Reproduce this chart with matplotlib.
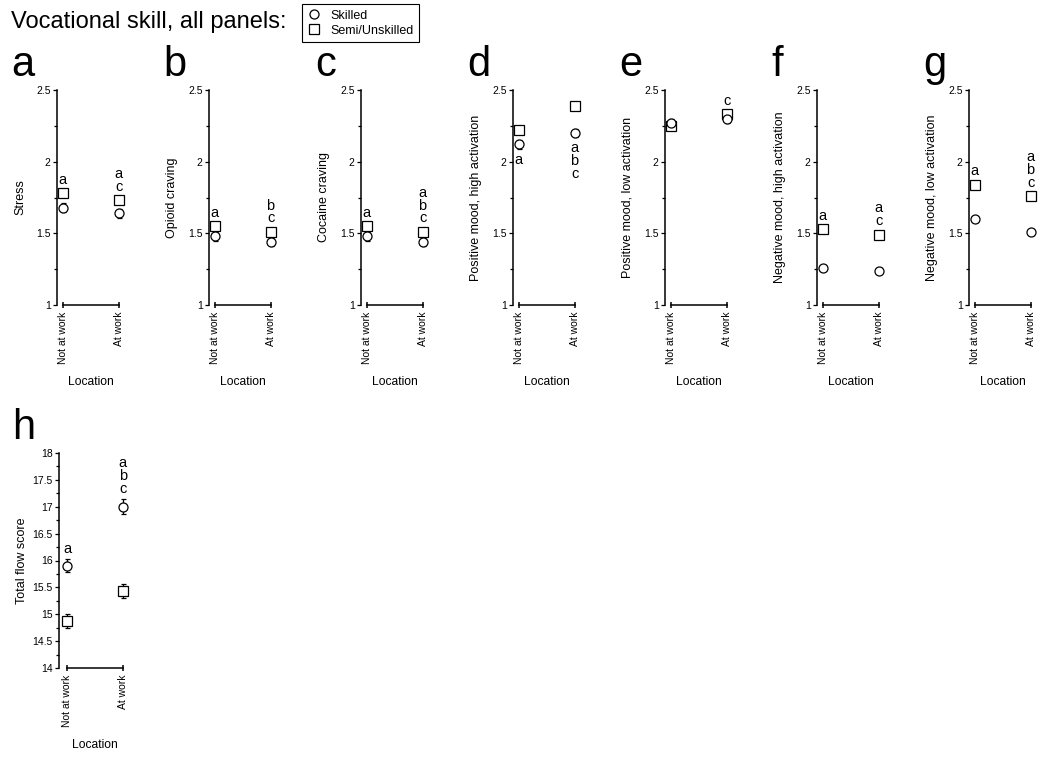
import numpy as np
import matplotlib
matplotlib.use("Agg")
import matplotlib.pyplot as plt
from matplotlib.lines import Line2D

plt.rcParams['font.family'] = ['Liberation Sans', 'DejaVu Sans']

W, H = 1050, 758

# panels a-g share the 1-2.5 scale
letters = ["a", "b", "c", "d", "e", "f", "g"]
ylabels = ["Stress", "Opioid craving", "Cocaine craving",
           "Positive mood, high activation", "Positive mood, low activation",
           "Negative mood, high activation", "Negative mood, low activation"]
locations = ["Not at work", "At work"]

skilled_not = [1.68, 1.48, 1.48, 2.12, 2.27, 1.26, 1.60]
skilled_work = [1.64, 1.44, 1.44, 2.20, 2.30, 1.24, 1.51]
semi_not = [1.78, 1.55, 1.55, 2.22, 2.25, 1.53, 1.84]
semi_work = [1.73, 1.51, 1.51, 2.39, 2.33, 1.49, 1.76]
skilled_err = [0.03, 0.03, 0.03, 0.03, 0.03, 0.02, 0.02]
semi_err = [0.02, 0.02, 0.02, 0.02, 0.02, 0.02, 0.02]

# significance letters (top to bottom), and whether they sit above or below the points
sig_not = ["a", "a", "a", "a", "", "a", "a"]
sig_work = ["ac", "bc", "abc", "abc", "c", "ac", "abc"]
sig_side = ["above", "above", "above", "below", "above", "above", "above"]

# panel h: total flow score
h_skilled = [15.90, 17.00]
h_semi = [14.88, 15.44]
h_skilled_err = [0.12, 0.14]
h_semi_err = [0.13, 0.13]
h_sig = ["a", "abc"]


def px_rect(left, top, width, height):
    return [left / W, 1 - (top + height) / H, width / W, height / H]


def style_panel(ax, ymin, ymax, ylabel, xlim):
    ax.set_xlim(*xlim)
    ax.set_ylim(ymin, ymax)
    for s in ["top", "right", "bottom"]:
        ax.spines[s].set_visible(False)
    ax.spines["left"].set_linewidth(1.1)
    ax.set_yticks(np.arange(ymin, ymax + 0.01, 0.5))
    ax.set_yticks(np.arange(ymin, ymax + 0.01, 0.25), minor=True)
    ax.yaxis.set_major_formatter(plt.FuncFormatter(lambda v, p: f"{v:g}"))
    ax.tick_params(axis="y", which="major", length=3, width=0.9, labelsize=7.5, pad=1.5)
    ax.tick_params(axis="y", which="minor", length=2, width=0.9)
    ax.set_xticks([0, 1])
    ax.set_xticklabels(locations, rotation=90, fontsize=7.5)
    ax.tick_params(axis="x", length=0, pad=5)
    # bracket along the bottom instead of an x spine
    ax.plot([0, 1], [ymin, ymin], color="black", lw=1.1, clip_on=False)
    ax.plot([0, 1], [ymin, ymin], ls="", marker="|", ms=5, mew=1.1, color="black", clip_on=False)
    ax.set_xlabel("Location", fontsize=8.7)
    ax.xaxis.set_label_coords((0.5 - xlim[0]) / (xlim[1] - xlim[0]), -0.33)
    ax.set_ylabel(ylabel, fontsize=9)
    ax.yaxis.set_label_coords(-31 / 75, 0.5)
    ax.patch.set_visible(False)


def draw_points(ax, x, sk, sk_e, se, se_e):
    kw = dict(ls="", mfc="white", mec="black", ecolor="black", mew=0.9,
              elinewidth=0.9, capsize=1.8, capthick=0.9, ms=6.5, clip_on=False)
    ax.errorbar(x, se, yerr=se_e, marker="s", **kw)
    ax.errorbar(x, sk, yerr=sk_e, marker="o", **kw)


def draw_sig(ax, x, text, y, side):
    if not text:
        return
    label = "\n".join(text)
    if side == "above":
        ax.annotate(label, (x, y), xytext=(0, 2.6), textcoords="offset points",
                    ha="center", va="bottom", fontsize=10.5, linespacing=0.9,
                    annotation_clip=False)
    else:
        ax.annotate(label, (x, y), xytext=(0, -3.0), textcoords="offset points",
                    ha="center", va="top", fontsize=10.5, linespacing=0.9,
                    annotation_clip=False)


fig = plt.figure(figsize=(W / 100, H / 100), dpi=100)

for i in range(7):
    left = 57 + 152 * i
    ax = fig.add_axes(px_rect(left, 90, 75, 215))
    style_panel(ax, 1, 2.5, ylabels[i], (-0.1, 1.24))
    draw_points(ax, 0, skilled_not[i], skilled_err[i], semi_not[i], semi_err[i])
    draw_points(ax, 1, skilled_work[i], skilled_err[i], semi_work[i], semi_err[i])
    for x, sk, se, sig in [(0, skilled_not[i], semi_not[i], sig_not[i]),
                           (1, skilled_work[i], semi_work[i], sig_work[i])]:
        if sig_side[i] == "above":
            y = max(sk + skilled_err[i], se + semi_err[i])
        else:
            y = min(sk - skilled_err[i], se - semi_err[i])
        draw_sig(ax, x, sig, y, sig_side[i])
    fig.text((left - 46) / W, 1 - 76 / H, letters[i], fontsize=30, va="baseline", ha="left")

# panel h
ax = fig.add_axes(px_rect(59, 453, 75, 215))
style_panel(ax, 14, 18, "Total flow score", (-0.145, 1.2))
for x in [0, 1]:
    draw_points(ax, x, h_skilled[x], h_skilled_err[x], h_semi[x], h_semi_err[x])
    y = max(h_skilled[x] + h_skilled_err[x], h_semi[x] + h_semi_err[x])
    draw_sig(ax, x, h_sig[x], y, "above")
fig.text((59 - 47) / W, 1 - 439 / H, "h", fontsize=30, va="baseline", ha="left")

# title and shared legend
fig.text(11 / W, 1 - 28 / H, "Vocational skill, all panels:", fontsize=17, va="baseline")
handles = [Line2D([], [], ls="", marker="o", mfc="white", mec="black", ms=6.5, mew=0.9),
           Line2D([], [], ls="", marker="s", mfc="white", mec="black", ms=6.5, mew=0.9)]
leg = fig.legend(handles, ["Skilled", "Semi/Unskilled"], loc="upper left",
                 bbox_to_anchor=(302 / W, 1 - 4 / H), borderaxespad=0, frameon=True,
                 fancybox=False, edgecolor="black", framealpha=1, fontsize=9,
                 handlelength=1.0, handletextpad=0.8, borderpad=0.45, labelspacing=0.25)
leg.get_frame().set_linewidth(0.8)

fig.savefig("out.png", dpi=100)
